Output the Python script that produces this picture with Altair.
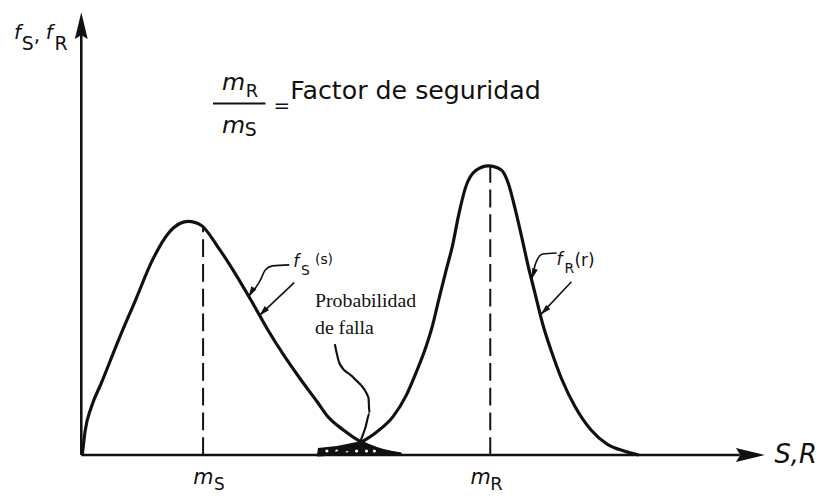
import altair as alt
import pandas as pd

# ---------------- data (schematic units: x from origin, y above baseline) ----------------
# stress density f_S(s)
s_x = [1, 4, 10, 20, 38, 55, 71, 88, 100, 108, 121, 138, 155, 171, 188, 205, 221, 238, 248, 265, 281, 303, 323]
s_y = [0, 25, 48, 72, 117, 157, 195, 224, 234, 236, 232, 210, 184, 157, 127, 100, 77, 54, 40, 25, 14, 5, 1]
# resistance density f_R(r)
r_x = [238, 258, 281, 298, 315, 328, 338, 348, 355, 361, 368, 375, 381, 388, 398, 411,
       424, 431, 438, 445, 451, 458, 466, 475, 485, 498, 515, 531, 548, 563]
r_y = [0, 2, 12, 23, 39, 60, 83, 109, 132, 157, 185, 212, 242, 270, 287, 292,
       288, 275, 249, 219, 192, 164, 132, 104, 77, 50, 25, 11, 4, 0]
# failure-probability overlap band
hatch_x = [238, 239, 258, 282, 303, 323, 325]
hatch_y = [0, 7, 9, 14, 6, 2, 0]
dots_x = [248, 258, 268, 278, 288, 296]
dots_y = [4, 4, 4, 4, 4, 4]
# means m_S, m_R (dashed)
mean_x = [123, 413]
mean_top = [229, 292]
# axes
axis_x_end = 665
axis_y_end = 425
arrow_up = (0, 447)
arrow_right = (690, 0)
# leaders
pointer_x = [256, 261, 275, 290, 291, 287, 282]
pointer_y = [112, 92, 78, 58, 42, 28, 14]
fs1_x = [210, 193, 186, 180, 169]
fs1_y = [192, 191, 187, 175, 160]
fs2_x = [215, 180]
fs2_y = [174, 141]
fr1_x = [480, 466, 459, 455]
fr1_y = [204, 203, 194, 178]
fr2_x = [495, 464]
fr2_y = [175, 142]
tip_x = [169, 180, 455, 464]
tip_y = [160, 141, 178, 142]
tip_angle = [121, 135, 108, 136]
# fraction bar
frac_x = [133, 186]
frac_y = 355

# texts: (text, x, y, size)
italic_texts = [("f", -68, 420, 20), ("f", -36, 420, 20), ("S,R", 700, -8, 26),
                ("m", 142, 369, 24), ("m", 142, 325, 24),
                ("m", 113, -29, 21), ("m", 393, -29, 21),
                ("f", 214, 190, 17), ("f", 480, 192, 17)]
plain_texts = [("S", -60, 409, 19), (",", -48, 417, 20), ("R", -27, 409, 19),
               ("R", 166, 362, 18), ("S", 165, 322, 19), ("=", 194, 346, 20),
               ("Factor de seguridad", 211, 360, 25.5),
               ("S", 134, -35, 17), ("R", 413, -35, 18),
               ("S", 222, 182, 14), ("(s)", 236, 193, 14),
               ("R", 488, 184, 14), ("(r)", 498, 191, 17)]
serif_texts = [("Probabilidad", 236, 149, 20), ("de falla", 236, 122, 20)]

# ---------------- chart ----------------
XS = alt.Scale(domain=[-74, 749], nice=False, zero=False)
YS = alt.Scale(domain=[-39, 449], nice=False, zero=False)
INK = "#111111"


def X(f="x"):
    return alt.X(f"{f}:Q", scale=XS, axis=None)


def Y(f="y"):
    return alt.Y(f"{f}:Q", scale=YS, axis=None)


curves = pd.concat([
    pd.DataFrame({"x": s_x, "y": s_y, "c": "S"}),
    pd.DataFrame({"x": r_x, "y": r_y, "c": "R"}),
])
curve_layer = alt.Chart(curves).mark_line(color=INK, strokeWidth=3.2, interpolate="monotone").encode(
    x=X(), y=Y(), detail="c:N")

hatch = alt.Chart(pd.DataFrame({"x": hatch_x, "y": hatch_y})).mark_area(
    color=INK, interpolate="linear", opacity=1).encode(x=X(), y=Y(), y2=alt.datum(0))
dots = alt.Chart(pd.DataFrame({"x": dots_x, "y": dots_y})).mark_point(
    filled=True, color="white", size=10, opacity=1, strokeWidth=0).encode(x=X(), y=Y())

means = alt.Chart(pd.DataFrame({"x": mean_x, "y": [0, 0], "y2": mean_top})).mark_rule(
    color=INK, strokeWidth=2, strokeDash=[18, 7]).encode(x=X(), y=Y(), y2="y2:Q")

axes = alt.Chart(pd.DataFrame({"x": [0, 0], "x2": [axis_x_end, 0], "y": [0, 0], "y2": [0, axis_y_end]})).mark_rule(
    color=INK, strokeWidth=2.6).encode(x=X(), x2="x2:Q", y=Y(), y2="y2:Q")

up_head = alt.Chart(pd.DataFrame({"x": [arrow_up[0]], "y": [arrow_up[1]]})).mark_point(
    shape="M0,0L1.3,5.4L0,4.6L-1.3,5.4Z", filled=True, size=100, color=INK, opacity=1, strokeWidth=0
).encode(x=X(), y=Y())
right_head = alt.Chart(pd.DataFrame({"x": [arrow_right[0]], "y": [arrow_right[1]]})).mark_point(
    shape="M0,0L-5.8,-1.4L-4.9,0L-5.8,1.4Z", filled=True, size=100, color=INK, opacity=1, strokeWidth=0
).encode(x=X(), y=Y())

lead_rows = []
for name, xs, ys in [("pf", pointer_x, pointer_y), ("fs1", fs1_x, fs1_y), ("fs2", fs2_x, fs2_y),
                     ("fr1", fr1_x, fr1_y), ("fr2", fr2_x, fr2_y)]:
    for i, (a, b) in enumerate(zip(xs, ys)):
        lead_rows.append({"id": name, "o": i, "x": a, "y": b, "w": 2.2 if name == "pf" else 1.6})
leads = pd.DataFrame(lead_rows)
lead_layer = alt.Chart(leads).mark_line(color=INK, interpolate="monotone").encode(
    x=X(), y=Y(), detail="id:N", order="o:Q", strokeWidth=alt.StrokeWidth("w:Q", scale=None))

tips = alt.Chart(pd.DataFrame({"x": tip_x, "y": tip_y, "a": tip_angle})).mark_point(
    shape="M0,0L-2.6,-0.75L-2.6,0.75Z", filled=True, size=64, color=INK, opacity=1, strokeWidth=0
).encode(x=X(), y=Y(), angle=alt.Angle("a:Q", scale=None))

frac = alt.Chart(pd.DataFrame({"x": [frac_x[0]], "x2": [frac_x[1]], "y": [frac_y]})).mark_rule(
    color=INK, strokeWidth=2).encode(x=X(), x2="x2:Q", y=Y())


def text_layer(rows, **kw):
    df = pd.DataFrame(rows, columns=["t", "x", "y", "s"])
    return alt.Chart(df).mark_text(align="left", baseline="alphabetic", color=INK, **kw).encode(
        x=X(), y=Y(), text="t:N", size=alt.Size("s:Q", scale=None))


t_it = text_layer(italic_texts, font="DejaVu Sans", fontStyle="italic")
t_pl = text_layer(plain_texts, font="DejaVu Sans")
t_sf = text_layer(serif_texts, font="Liberation Serif")

chart = alt.layer(
    hatch, dots, curve_layer, means, axes, up_head, right_head, lead_layer, tips, frac, t_it, t_pl, t_sf
).properties(width=823, height=488, padding=0, autosize="none", background="white").configure_view(strokeWidth=0)

chart.save("out.html", embed_options={"renderer": "svg", "actions": False})
